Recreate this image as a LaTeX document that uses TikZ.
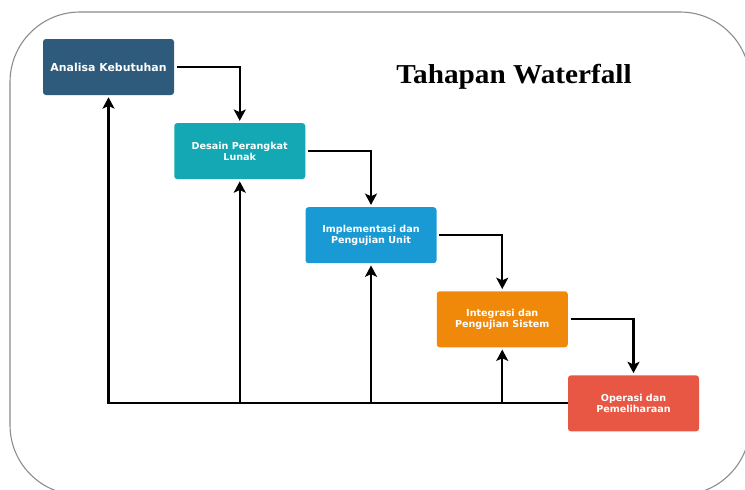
\documentclass[tikz,border=0pt]{standalone}
\usepackage{fontspec}
\setmainfont{Liberation Serif}
\newfontfamily\boxfont{DejaVu Sans}
\usetikzlibrary{arrows.meta}
\definecolor{cA}{HTML}{2E5A7B}
\definecolor{cB}{HTML}{13A8B3}
\definecolor{cC}{HTML}{1A9AD5}
\definecolor{cD}{HTML}{F0890A}
\definecolor{cE}{HTML}{E75744}
\definecolor{frame}{HTML}{8A8A8A}
\tikzset{
  phase/.style={rounded corners=2.2pt, inner sep=0pt, minimum width=98.25pt,
    minimum height=42pt, text=white, align=center,
    font=\boxfont\bfseries\fontsize{7.2}{8}\selectfont},
  conn/.style={line width=1.6pt, -{Stealth[length=8.5pt,width=9pt,inset=2pt]}},
  plain/.style={line width=1.6pt}
}
\begin{document}
\begin{tikzpicture}[x=0.75pt,y=-0.75pt]
\useasboundingbox (0,0) rectangle (745,489);
\draw[frame, line width=0.8pt, rounded corners=52.5pt] (10,12) rectangle (750,495);
\node[font=\bfseries\fontsize{20.5}{24}\selectfont, anchor=base] (title) at (514,83) {\scalebox{1.07}[1]{Tahapan Waterfall}};
\node[phase, fill=cA, font=\boxfont\bfseries\fontsize{8.2}{9}\selectfont] (b1) at (108.5,67) {Analisa Kebutuhan};
\node[phase, fill=cB] (b2) at (239.75,151.1) {Desain Perangkat\\Lunak};
\node[phase, fill=cC] (b3) at (371,235.2) {Implementasi dan\\Pengujian Unit};
\node[phase, fill=cD] (b4) at (502.25,319.3) {Integrasi dan\\Pengujian Sistem};
\node[phase, fill=cE] (b5) at (633.5,403.4) {Operasi dan\\Pemeliharaan};
% forward flow
\draw[conn, shorten <=2pt, shorten >=1.5pt] (b1.east) -| (b2.north);
\draw[conn, shorten <=2pt, shorten >=1.5pt] (b2.east) -| (b3.north);
\draw[conn, shorten <=2pt, shorten >=1.5pt] (b3.east) -| (b4.north);
\draw[conn, shorten <=2pt, shorten >=1.5pt] (b4.east) -| (b5.north);
% feedback
\draw[conn, shorten >=1.5pt] (b5.west) -| (b1.south);
\coordinate (j2) at (b2.south |- b5.west);
\coordinate (j3) at (b3.south |- b5.west);
\coordinate (j4) at (b4.south |- b5.west);
\draw[conn, shorten >=1.5pt] (j2) -- (b2.south);
\draw[conn, shorten >=1.5pt] (j3) -- (b3.south);
\draw[conn, shorten >=1.5pt] (j4) -- (b4.south);
\end{tikzpicture}
\end{document}
